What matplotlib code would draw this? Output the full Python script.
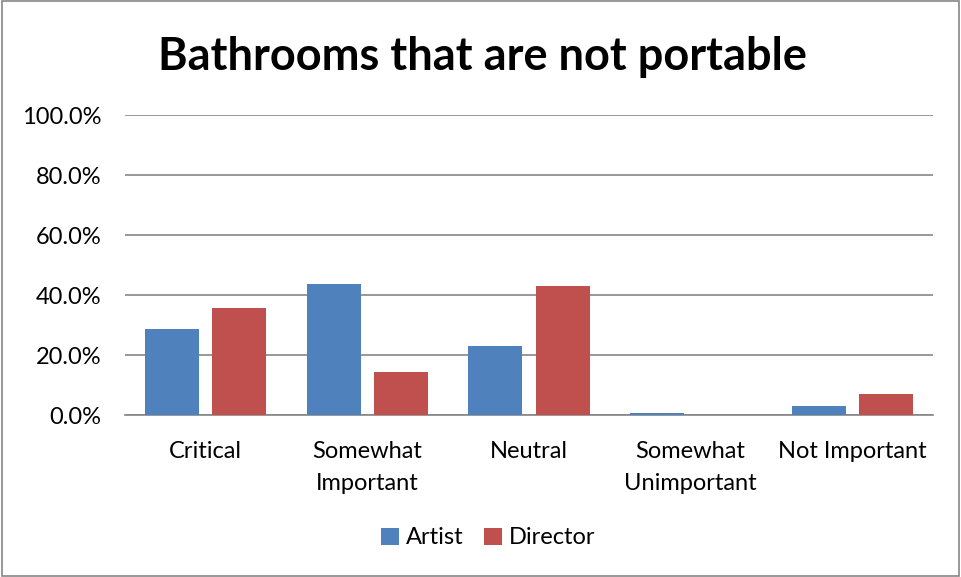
import matplotlib.pyplot as plt
import numpy as np
from matplotlib.ticker import PercentFormatter
from matplotlib.patches import Rectangle

plt.rcParams['font.family'] = ['Lato', 'DejaVu Sans']

# Survey answers (share of respondents)
categories = ['Critical', 'Somewhat\nImportant', 'Neutral', 'Somewhat\nUnimportant', 'Not Important']
artist = [0.288, 0.437, 0.230, 0.007, 0.031]
director = [0.357, 0.143, 0.429, 0.0, 0.071]

fig = plt.figure(figsize=(9.61, 5.77), dpi=100)
ax = fig.add_axes([125 / 961, 1 - 415 / 577, 808 / 961, 300 / 577])

x = np.arange(len(categories))
w = 0.334
ax.bar(x - 0.208, artist, w, color='#4F81BD', label='Artist', zorder=3)
ax.bar(x + 0.208, director, w, color='#C0504D', label='Director', zorder=3)

ax.set_xlim(-0.5, len(categories) - 0.5)
ax.set_ylim(0, 1)
ax.set_yticks(np.arange(0, 1.01, 0.2))
ax.yaxis.set_major_formatter(PercentFormatter(1.0, decimals=1))
ax.grid(axis='y', color='#868686', linewidth=1.2, zorder=0)
ax.set_xticks(x)
ax.set_xticklabels(categories, fontsize=17, linespacing=1.6)
ax.tick_params(axis='y', labelsize=17, length=0, pad=17)
ax.tick_params(axis='x', length=0, pad=19)
for s in ['top', 'right', 'left']:
    ax.spines[s].set_visible(False)
ax.spines['bottom'].set_color('#868686')
ax.spines['bottom'].set_linewidth(1.2)

fig.text(0.502, 1 - 57 / 577, 'Bathrooms that are not portable', ha='center', va='center',
         fontsize=32.5, fontweight='bold')

fig.legend(loc='center', bbox_to_anchor=(0.508, 1 - 538 / 577), ncol=2, frameon=False,
           fontsize=17, handlelength=0.75, handleheight=0.75, handletextpad=0.3, columnspacing=0.88)

# outer chart border
fig.patches.append(Rectangle((0.002, 0.002), 0.996, 0.996, transform=fig.transFigure,
                             fill=False, edgecolor='#868686', linewidth=1.2))

plt.savefig('out.png', dpi=100)
